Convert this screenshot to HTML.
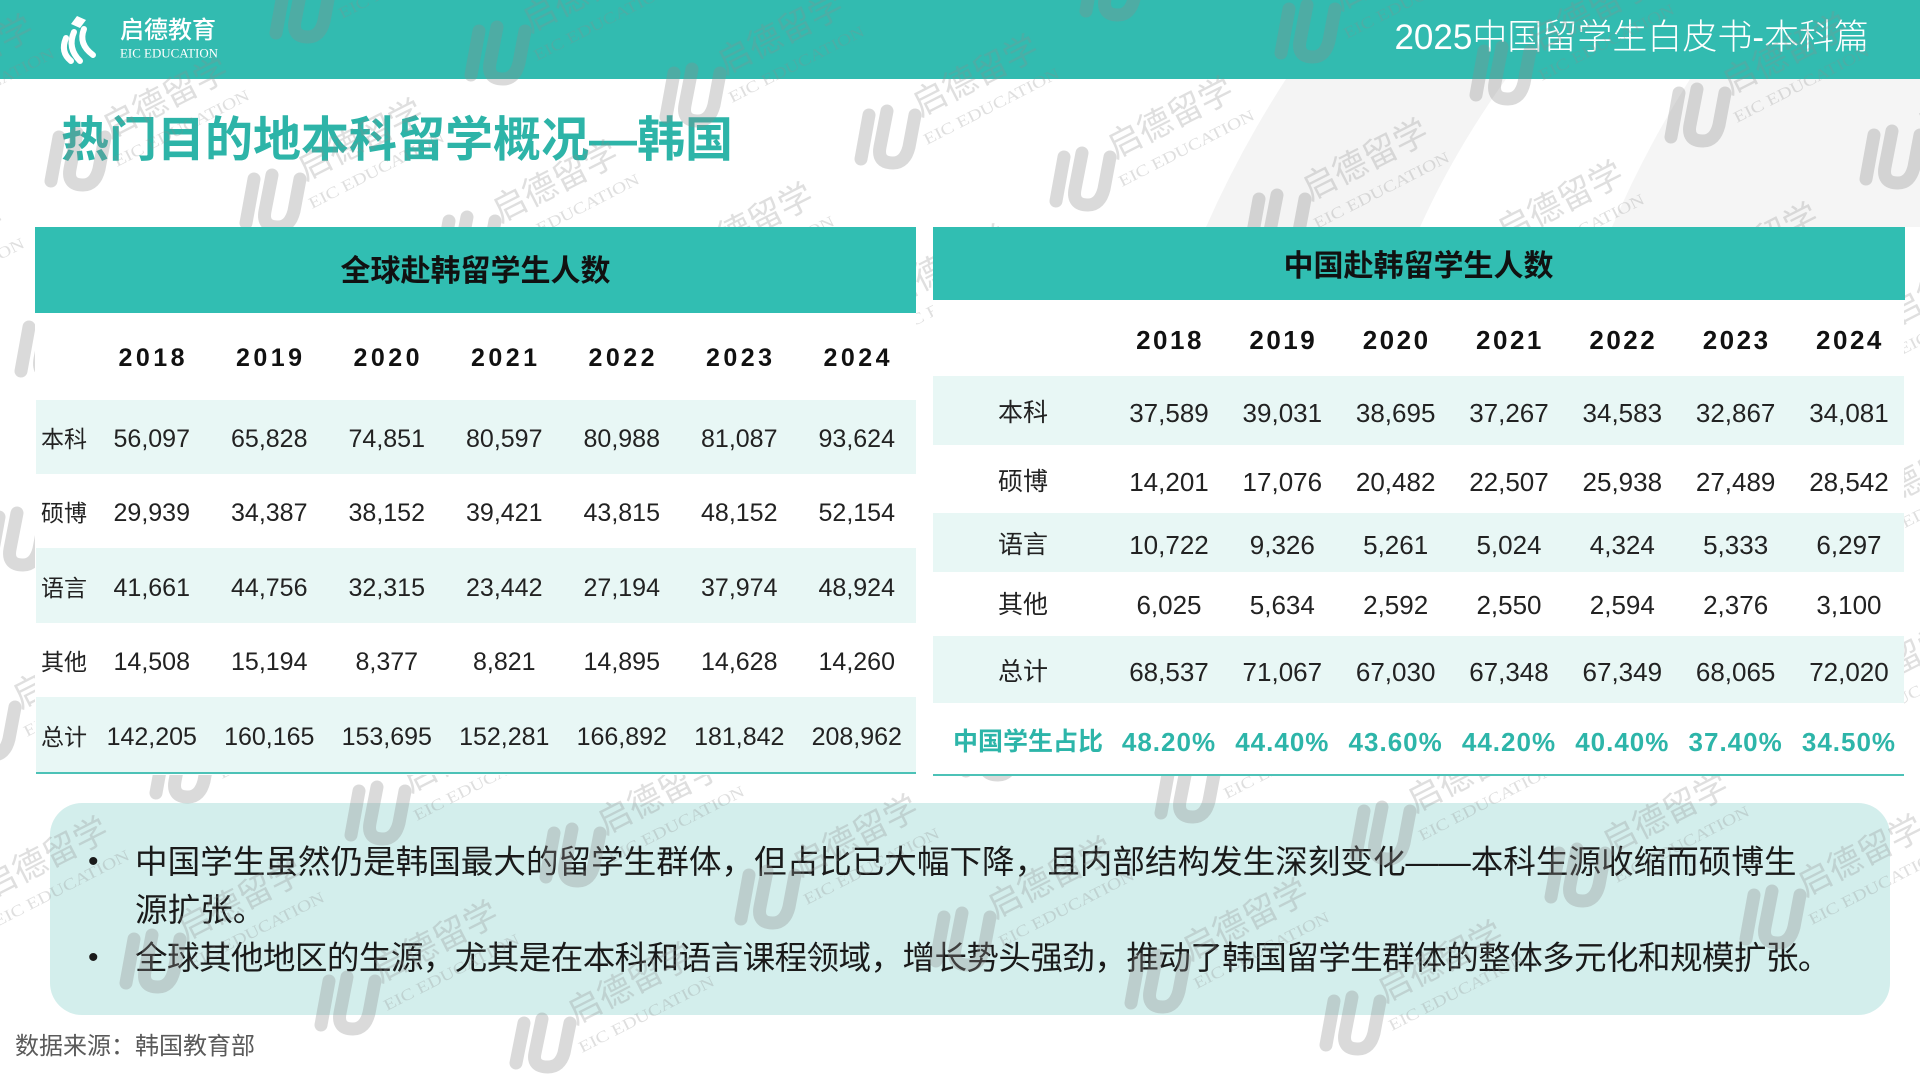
<!DOCTYPE html>
<html lang="zh-CN">
<head>
<meta charset="utf-8">
<style>
*{margin:0;padding:0;box-sizing:border-box}
html,body{width:1920px;height:1080px;overflow:hidden;background:#fff}
body{position:relative;font-family:"Liberation Sans","Noto Sans CJK SC",sans-serif;color:#1e1e1e}
.abs{position:absolute}
.hdr{left:0;top:0;width:1920px;height:79px;background:#32bbb0;z-index:2}
.htitle{right:51px;top:18px;height:40px;line-height:40px;font-size:35px;color:#fff;font-weight:300;white-space:nowrap;z-index:3}
.ptitle{left:61px;top:111px;height:60px;line-height:60px;font-size:48px;font-weight:700;color:#2db4a8;white-space:nowrap;z-index:3}
.box{left:50px;top:803px;width:1840px;height:212px;background:#d3eeec;border-radius:32px;z-index:2}
.bl{left:135px;height:48px;line-height:48px;font-size:32.6px;color:#1a1a1a;white-space:nowrap;z-index:3}
.bul{left:88px;height:48px;line-height:48px;font-size:30px;color:#1a1a1a;z-index:3}
.src{left:15px;top:1031px;height:32px;line-height:32px;font-size:24px;color:#5a5a5a;white-space:nowrap;z-index:3}
.wm{left:0;top:0;width:1920px;height:1080px;z-index:5;pointer-events:none}
.tbg{background:#fff;z-index:8}
.th{background:#31beb2;z-index:9}
.band{background:#e8f7f5;z-index:9}
.line{background:#4cc2b7;z-index:9}
.tt{height:40px;line-height:40px;font-size:30px;font-weight:700;color:#111;text-align:center;white-space:nowrap;z-index:10}
.r{position:absolute;display:flex;height:40px;line-height:40px;white-space:nowrap;z-index:10;color:#222}
.L .c{width:117.5px;text-align:center;font-size:25px}
.R .c{width:113.333px;text-align:center;font-size:26px}
.L.y .c{font-weight:700;letter-spacing:3.5px;padding-left:3px;color:#111}
.R.y .c{font-weight:700;letter-spacing:2.5px;padding-left:2px;color:#111}
.R.p .c{font-weight:700;color:#2db5a9;letter-spacing:1px}
.lab{height:40px;line-height:40px;white-space:nowrap;z-index:10;color:#222}
.lab.l{left:41px;font-size:23px}
.lab.rr{left:953px;width:140px;text-align:center;font-size:25px}
.wm .ic{fill:none;stroke:rgba(140,140,140,0.32);stroke-width:13;stroke-linecap:round}
.wm .t1{font-family:"Liberation Sans","Noto Sans CJK SC",sans-serif;font-size:34px;fill:rgba(140,140,140,0.28)}
.wm .t2{font-family:"Liberation Serif",serif;font-size:16px;fill:rgba(140,140,140,0.28)}
</style>
</head>
<body>

<svg class="abs" style="left:0;top:0;z-index:0" width="1920" height="1080">
  <path d="M1286 79 L1506 79 Q1455 150 1420 227 L1206 227 Q1240 150 1286 79 Z" fill="#f4f4f4"/>
  <path d="M1690 79 L1920 79 L1920 227 L1612 227 Q1645 150 1690 79 Z" fill="#f5f5f5"/>
</svg>

<div class="abs hdr"></div>
<svg class="abs" style="left:55px;top:10px;z-index:3" width="190" height="60">
  <polygon points="22,6 31,10 25,18 16,14" fill="#fff"/>
  <path d="M11 28 Q5 42 16 51" stroke="#fff" stroke-width="6" fill="none" stroke-linecap="round"/>
  <path d="M19 22 Q12 38 25 51" stroke="#fff" stroke-width="6" fill="none" stroke-linecap="round"/>
  <path d="M29 19 Q23 34 38 45" stroke="#fff" stroke-width="6" fill="none" stroke-linecap="round"/>
  <text x="65" y="28" font-family="Liberation Sans, Noto Sans CJK SC, sans-serif" font-size="24" font-weight="500" fill="#fff">启德教育</text>
  <text x="65" y="47.5" font-family="Liberation Serif, serif" font-size="13" fill="#fff" textLength="98" lengthAdjust="spacingAndGlyphs">EIC EDUCATION</text>
</svg>
<div class="abs htitle">2025中国留学生白皮书-本科篇</div>

<div class="abs ptitle">热门目的地本科留学概况—韩国</div>

<div class="abs box"></div>
<div class="abs bul" style="top:838px">•</div>
<div class="abs bl" style="top:838px">中国学生虽然仍是韩国最大的留学生群体，但占比已大幅下降，且内部结构发生深刻变化——本科生源收缩而硕博生</div>
<div class="abs bl" style="top:886px">源扩张。</div>
<div class="abs bul" style="top:934px">•</div>
<div class="abs bl" style="top:934px;letter-spacing:-0.6px">全球其他地区的生源，尤其是在本科和语言课程领域，增长势头强劲，推动了韩国留学生群体的整体多元化和规模扩张。</div>
<div class="abs src">数据来源：韩国教育部</div>

<svg class="abs wm" width="1920" height="1080">
<g transform="translate(1110,-11)"><path class="ic" d="M-16 -22 L-24 22"/><path class="ic" d="M2 -26 L-5 10 Q-8 26 8 26 Q20 26 24 10 L30 -22"/><text class="t1" transform="translate(35,-20) rotate(-27)">启德留学</text><text class="t2" transform="translate(42,8) rotate(-27)" textLength="150" lengthAdjust="spacingAndGlyphs">EIC EDUCATION</text></g>
<g transform="translate(1305,31)"><path class="ic" d="M-16 -22 L-24 22"/><path class="ic" d="M2 -26 L-5 10 Q-8 26 8 26 Q20 26 24 10 L30 -22"/><text class="t1" transform="translate(35,-20) rotate(-27)">启德留学</text><text class="t2" transform="translate(42,8) rotate(-27)" textLength="150" lengthAdjust="spacingAndGlyphs">EIC EDUCATION</text></g>
<g transform="translate(1500,73)"><path class="ic" d="M-16 -22 L-24 22"/><path class="ic" d="M2 -26 L-5 10 Q-8 26 8 26 Q20 26 24 10 L30 -22"/><text class="t1" transform="translate(35,-20) rotate(-27)">启德留学</text><text class="t2" transform="translate(42,8) rotate(-27)" textLength="150" lengthAdjust="spacingAndGlyphs">EIC EDUCATION</text></g>
<g transform="translate(1695,115)"><path class="ic" d="M-16 -22 L-24 22"/><path class="ic" d="M2 -26 L-5 10 Q-8 26 8 26 Q20 26 24 10 L30 -22"/><text class="t1" transform="translate(35,-20) rotate(-27)">启德留学</text><text class="t2" transform="translate(42,8) rotate(-27)" textLength="150" lengthAdjust="spacingAndGlyphs">EIC EDUCATION</text></g>
<g transform="translate(1890,157)"><path class="ic" d="M-16 -22 L-24 22"/><path class="ic" d="M2 -26 L-5 10 Q-8 26 8 26 Q20 26 24 10 L30 -22"/><text class="t1" transform="translate(35,-20) rotate(-27)">启德留学</text><text class="t2" transform="translate(42,8) rotate(-27)" textLength="150" lengthAdjust="spacingAndGlyphs">EIC EDUCATION</text></g>
<g transform="translate(300,11)"><path class="ic" d="M-16 -22 L-24 22"/><path class="ic" d="M2 -26 L-5 10 Q-8 26 8 26 Q20 26 24 10 L30 -22"/><text class="t1" transform="translate(35,-20) rotate(-27)">启德留学</text><text class="t2" transform="translate(42,8) rotate(-27)" textLength="150" lengthAdjust="spacingAndGlyphs">EIC EDUCATION</text></g>
<g transform="translate(495,53)"><path class="ic" d="M-16 -22 L-24 22"/><path class="ic" d="M2 -26 L-5 10 Q-8 26 8 26 Q20 26 24 10 L30 -22"/><text class="t1" transform="translate(35,-20) rotate(-27)">启德留学</text><text class="t2" transform="translate(42,8) rotate(-27)" textLength="150" lengthAdjust="spacingAndGlyphs">EIC EDUCATION</text></g>
<g transform="translate(690,95)"><path class="ic" d="M-16 -22 L-24 22"/><path class="ic" d="M2 -26 L-5 10 Q-8 26 8 26 Q20 26 24 10 L30 -22"/><text class="t1" transform="translate(35,-20) rotate(-27)">启德留学</text><text class="t2" transform="translate(42,8) rotate(-27)" textLength="150" lengthAdjust="spacingAndGlyphs">EIC EDUCATION</text></g>
<g transform="translate(885,137)"><path class="ic" d="M-16 -22 L-24 22"/><path class="ic" d="M2 -26 L-5 10 Q-8 26 8 26 Q20 26 24 10 L30 -22"/><text class="t1" transform="translate(35,-20) rotate(-27)">启德留学</text><text class="t2" transform="translate(42,8) rotate(-27)" textLength="150" lengthAdjust="spacingAndGlyphs">EIC EDUCATION</text></g>
<g transform="translate(1080,179)"><path class="ic" d="M-16 -22 L-24 22"/><path class="ic" d="M2 -26 L-5 10 Q-8 26 8 26 Q20 26 24 10 L30 -22"/><text class="t1" transform="translate(35,-20) rotate(-27)">启德留学</text><text class="t2" transform="translate(42,8) rotate(-27)" textLength="150" lengthAdjust="spacingAndGlyphs">EIC EDUCATION</text></g>
<g transform="translate(1275,221)"><path class="ic" d="M-16 -22 L-24 22"/><path class="ic" d="M2 -26 L-5 10 Q-8 26 8 26 Q20 26 24 10 L30 -22"/><text class="t1" transform="translate(35,-20) rotate(-27)">启德留学</text><text class="t2" transform="translate(42,8) rotate(-27)" textLength="150" lengthAdjust="spacingAndGlyphs">EIC EDUCATION</text></g>
<g transform="translate(1470,263)"><path class="ic" d="M-16 -22 L-24 22"/><path class="ic" d="M2 -26 L-5 10 Q-8 26 8 26 Q20 26 24 10 L30 -22"/><text class="t1" transform="translate(35,-20) rotate(-27)">启德留学</text><text class="t2" transform="translate(42,8) rotate(-27)" textLength="150" lengthAdjust="spacingAndGlyphs">EIC EDUCATION</text></g>
<g transform="translate(1665,305)"><path class="ic" d="M-16 -22 L-24 22"/><path class="ic" d="M2 -26 L-5 10 Q-8 26 8 26 Q20 26 24 10 L30 -22"/><text class="t1" transform="translate(35,-20) rotate(-27)">启德留学</text><text class="t2" transform="translate(42,8) rotate(-27)" textLength="150" lengthAdjust="spacingAndGlyphs">EIC EDUCATION</text></g>
<g transform="translate(1860,347)"><path class="ic" d="M-16 -22 L-24 22"/><path class="ic" d="M2 -26 L-5 10 Q-8 26 8 26 Q20 26 24 10 L30 -22"/><text class="t1" transform="translate(35,-20) rotate(-27)">启德留学</text><text class="t2" transform="translate(42,8) rotate(-27)" textLength="150" lengthAdjust="spacingAndGlyphs">EIC EDUCATION</text></g>
<g transform="translate(-120,117)"><path class="ic" d="M-16 -22 L-24 22"/><path class="ic" d="M2 -26 L-5 10 Q-8 26 8 26 Q20 26 24 10 L30 -22"/><text class="t1" transform="translate(35,-20) rotate(-27)">启德留学</text><text class="t2" transform="translate(42,8) rotate(-27)" textLength="150" lengthAdjust="spacingAndGlyphs">EIC EDUCATION</text></g>
<g transform="translate(75,159)"><path class="ic" d="M-16 -22 L-24 22"/><path class="ic" d="M2 -26 L-5 10 Q-8 26 8 26 Q20 26 24 10 L30 -22"/><text class="t1" transform="translate(35,-20) rotate(-27)">启德留学</text><text class="t2" transform="translate(42,8) rotate(-27)" textLength="150" lengthAdjust="spacingAndGlyphs">EIC EDUCATION</text></g>
<g transform="translate(270,201)"><path class="ic" d="M-16 -22 L-24 22"/><path class="ic" d="M2 -26 L-5 10 Q-8 26 8 26 Q20 26 24 10 L30 -22"/><text class="t1" transform="translate(35,-20) rotate(-27)">启德留学</text><text class="t2" transform="translate(42,8) rotate(-27)" textLength="150" lengthAdjust="spacingAndGlyphs">EIC EDUCATION</text></g>
<g transform="translate(465,243)"><path class="ic" d="M-16 -22 L-24 22"/><path class="ic" d="M2 -26 L-5 10 Q-8 26 8 26 Q20 26 24 10 L30 -22"/><text class="t1" transform="translate(35,-20) rotate(-27)">启德留学</text><text class="t2" transform="translate(42,8) rotate(-27)" textLength="150" lengthAdjust="spacingAndGlyphs">EIC EDUCATION</text></g>
<g transform="translate(660,285)"><path class="ic" d="M-16 -22 L-24 22"/><path class="ic" d="M2 -26 L-5 10 Q-8 26 8 26 Q20 26 24 10 L30 -22"/><text class="t1" transform="translate(35,-20) rotate(-27)">启德留学</text><text class="t2" transform="translate(42,8) rotate(-27)" textLength="150" lengthAdjust="spacingAndGlyphs">EIC EDUCATION</text></g>
<g transform="translate(855,327)"><path class="ic" d="M-16 -22 L-24 22"/><path class="ic" d="M2 -26 L-5 10 Q-8 26 8 26 Q20 26 24 10 L30 -22"/><text class="t1" transform="translate(35,-20) rotate(-27)">启德留学</text><text class="t2" transform="translate(42,8) rotate(-27)" textLength="150" lengthAdjust="spacingAndGlyphs">EIC EDUCATION</text></g>
<g transform="translate(1830,537)"><path class="ic" d="M-16 -22 L-24 22"/><path class="ic" d="M2 -26 L-5 10 Q-8 26 8 26 Q20 26 24 10 L30 -22"/><text class="t1" transform="translate(35,-20) rotate(-27)">启德留学</text><text class="t2" transform="translate(42,8) rotate(-27)" textLength="150" lengthAdjust="spacingAndGlyphs">EIC EDUCATION</text></g>
<g transform="translate(-150,307)"><path class="ic" d="M-16 -22 L-24 22"/><path class="ic" d="M2 -26 L-5 10 Q-8 26 8 26 Q20 26 24 10 L30 -22"/><text class="t1" transform="translate(35,-20) rotate(-27)">启德留学</text><text class="t2" transform="translate(42,8) rotate(-27)" textLength="150" lengthAdjust="spacingAndGlyphs">EIC EDUCATION</text></g>
<g transform="translate(45,349)"><path class="ic" d="M-16 -22 L-24 22"/><path class="ic" d="M2 -26 L-5 10 Q-8 26 8 26 Q20 26 24 10 L30 -22"/><text class="t1" transform="translate(35,-20) rotate(-27)">启德留学</text><text class="t2" transform="translate(42,8) rotate(-27)" textLength="150" lengthAdjust="spacingAndGlyphs">EIC EDUCATION</text></g>
<g transform="translate(1800,727)"><path class="ic" d="M-16 -22 L-24 22"/><path class="ic" d="M2 -26 L-5 10 Q-8 26 8 26 Q20 26 24 10 L30 -22"/><text class="t1" transform="translate(35,-20) rotate(-27)">启德留学</text><text class="t2" transform="translate(42,8) rotate(-27)" textLength="150" lengthAdjust="spacingAndGlyphs">EIC EDUCATION</text></g>
<g transform="translate(15,539)"><path class="ic" d="M-16 -22 L-24 22"/><path class="ic" d="M2 -26 L-5 10 Q-8 26 8 26 Q20 26 24 10 L30 -22"/><text class="t1" transform="translate(35,-20) rotate(-27)">启德留学</text><text class="t2" transform="translate(42,8) rotate(-27)" textLength="150" lengthAdjust="spacingAndGlyphs">EIC EDUCATION</text></g>
<g transform="translate(990,749)"><path class="ic" d="M-16 -22 L-24 22"/><path class="ic" d="M2 -26 L-5 10 Q-8 26 8 26 Q20 26 24 10 L30 -22"/><text class="t1" transform="translate(35,-20) rotate(-27)">启德留学</text><text class="t2" transform="translate(42,8) rotate(-27)" textLength="150" lengthAdjust="spacingAndGlyphs">EIC EDUCATION</text></g>
<g transform="translate(1185,791)"><path class="ic" d="M-16 -22 L-24 22"/><path class="ic" d="M2 -26 L-5 10 Q-8 26 8 26 Q20 26 24 10 L30 -22"/><text class="t1" transform="translate(35,-20) rotate(-27)">启德留学</text><text class="t2" transform="translate(42,8) rotate(-27)" textLength="150" lengthAdjust="spacingAndGlyphs">EIC EDUCATION</text></g>
<g transform="translate(1380,833)"><path class="ic" d="M-16 -22 L-24 22"/><path class="ic" d="M2 -26 L-5 10 Q-8 26 8 26 Q20 26 24 10 L30 -22"/><text class="t1" transform="translate(35,-20) rotate(-27)">启德留学</text><text class="t2" transform="translate(42,8) rotate(-27)" textLength="150" lengthAdjust="spacingAndGlyphs">EIC EDUCATION</text></g>
<g transform="translate(1575,875)"><path class="ic" d="M-16 -22 L-24 22"/><path class="ic" d="M2 -26 L-5 10 Q-8 26 8 26 Q20 26 24 10 L30 -22"/><text class="t1" transform="translate(35,-20) rotate(-27)">启德留学</text><text class="t2" transform="translate(42,8) rotate(-27)" textLength="150" lengthAdjust="spacingAndGlyphs">EIC EDUCATION</text></g>
<g transform="translate(1770,917)"><path class="ic" d="M-16 -22 L-24 22"/><path class="ic" d="M2 -26 L-5 10 Q-8 26 8 26 Q20 26 24 10 L30 -22"/><text class="t1" transform="translate(35,-20) rotate(-27)">启德留学</text><text class="t2" transform="translate(42,8) rotate(-27)" textLength="150" lengthAdjust="spacingAndGlyphs">EIC EDUCATION</text></g>
<g transform="translate(-15,729)"><path class="ic" d="M-16 -22 L-24 22"/><path class="ic" d="M2 -26 L-5 10 Q-8 26 8 26 Q20 26 24 10 L30 -22"/><text class="t1" transform="translate(35,-20) rotate(-27)">启德留学</text><text class="t2" transform="translate(42,8) rotate(-27)" textLength="150" lengthAdjust="spacingAndGlyphs">EIC EDUCATION</text></g>
<g transform="translate(180,771)"><path class="ic" d="M-16 -22 L-24 22"/><path class="ic" d="M2 -26 L-5 10 Q-8 26 8 26 Q20 26 24 10 L30 -22"/><text class="t1" transform="translate(35,-20) rotate(-27)">启德留学</text><text class="t2" transform="translate(42,8) rotate(-27)" textLength="150" lengthAdjust="spacingAndGlyphs">EIC EDUCATION</text></g>
<g transform="translate(375,813)"><path class="ic" d="M-16 -22 L-24 22"/><path class="ic" d="M2 -26 L-5 10 Q-8 26 8 26 Q20 26 24 10 L30 -22"/><text class="t1" transform="translate(35,-20) rotate(-27)">启德留学</text><text class="t2" transform="translate(42,8) rotate(-27)" textLength="150" lengthAdjust="spacingAndGlyphs">EIC EDUCATION</text></g>
<g transform="translate(570,855)"><path class="ic" d="M-16 -22 L-24 22"/><path class="ic" d="M2 -26 L-5 10 Q-8 26 8 26 Q20 26 24 10 L30 -22"/><text class="t1" transform="translate(35,-20) rotate(-27)">启德留学</text><text class="t2" transform="translate(42,8) rotate(-27)" textLength="150" lengthAdjust="spacingAndGlyphs">EIC EDUCATION</text></g>
<g transform="translate(765,897)"><path class="ic" d="M-16 -22 L-24 22"/><path class="ic" d="M2 -26 L-5 10 Q-8 26 8 26 Q20 26 24 10 L30 -22"/><text class="t1" transform="translate(35,-20) rotate(-27)">启德留学</text><text class="t2" transform="translate(42,8) rotate(-27)" textLength="150" lengthAdjust="spacingAndGlyphs">EIC EDUCATION</text></g>
<g transform="translate(960,939)"><path class="ic" d="M-16 -22 L-24 22"/><path class="ic" d="M2 -26 L-5 10 Q-8 26 8 26 Q20 26 24 10 L30 -22"/><text class="t1" transform="translate(35,-20) rotate(-27)">启德留学</text><text class="t2" transform="translate(42,8) rotate(-27)" textLength="150" lengthAdjust="spacingAndGlyphs">EIC EDUCATION</text></g>
<g transform="translate(1155,981)"><path class="ic" d="M-16 -22 L-24 22"/><path class="ic" d="M2 -26 L-5 10 Q-8 26 8 26 Q20 26 24 10 L30 -22"/><text class="t1" transform="translate(35,-20) rotate(-27)">启德留学</text><text class="t2" transform="translate(42,8) rotate(-27)" textLength="150" lengthAdjust="spacingAndGlyphs">EIC EDUCATION</text></g>
<g transform="translate(1350,1023)"><path class="ic" d="M-16 -22 L-24 22"/><path class="ic" d="M2 -26 L-5 10 Q-8 26 8 26 Q20 26 24 10 L30 -22"/><text class="t1" transform="translate(35,-20) rotate(-27)">启德留学</text><text class="t2" transform="translate(42,8) rotate(-27)" textLength="150" lengthAdjust="spacingAndGlyphs">EIC EDUCATION</text></g>
<g transform="translate(-45,919)"><path class="ic" d="M-16 -22 L-24 22"/><path class="ic" d="M2 -26 L-5 10 Q-8 26 8 26 Q20 26 24 10 L30 -22"/><text class="t1" transform="translate(35,-20) rotate(-27)">启德留学</text><text class="t2" transform="translate(42,8) rotate(-27)" textLength="150" lengthAdjust="spacingAndGlyphs">EIC EDUCATION</text></g>
<g transform="translate(150,961)"><path class="ic" d="M-16 -22 L-24 22"/><path class="ic" d="M2 -26 L-5 10 Q-8 26 8 26 Q20 26 24 10 L30 -22"/><text class="t1" transform="translate(35,-20) rotate(-27)">启德留学</text><text class="t2" transform="translate(42,8) rotate(-27)" textLength="150" lengthAdjust="spacingAndGlyphs">EIC EDUCATION</text></g>
<g transform="translate(345,1003)"><path class="ic" d="M-16 -22 L-24 22"/><path class="ic" d="M2 -26 L-5 10 Q-8 26 8 26 Q20 26 24 10 L30 -22"/><text class="t1" transform="translate(35,-20) rotate(-27)">启德留学</text><text class="t2" transform="translate(42,8) rotate(-27)" textLength="150" lengthAdjust="spacingAndGlyphs">EIC EDUCATION</text></g>
<g transform="translate(540,1045)"><path class="ic" d="M-16 -22 L-24 18"/><path class="ic" d="M2 -26 L-5 8 Q-8 22 8 22 Q20 22 24 8 L30 -22"/><text class="t1" transform="translate(35,-20) rotate(-27)">启德留学</text><text class="t2" transform="translate(42,8) rotate(-27)" textLength="150" lengthAdjust="spacingAndGlyphs">EIC EDUCATION</text></g>
</svg>

<!-- LEFT TABLE -->
<div class="abs tbg" style="left:35px;top:227px;width:881px;height:548px"></div>
<div class="abs th" style="left:35px;top:227px;width:881px;height:86px"></div>
<div class="abs tt" style="left:35px;width:881px;top:252px">全球赴韩留学生人数</div>
<div class="abs band" style="left:36px;top:400px;width:880px;height:74px"></div>
<div class="abs band" style="left:36px;top:548px;width:880px;height:75px"></div>
<div class="abs band" style="left:36px;top:697px;width:880px;height:75px"></div>
<div class="abs line" style="left:36px;top:772px;width:880px;height:2px"></div>

<div class="r L y" style="left:93px;top:338px"><div class="c">2018</div><div class="c">2019</div><div class="c">2020</div><div class="c">2021</div><div class="c">2022</div><div class="c">2023</div><div class="c">2024</div></div>

<div class="abs lab l" style="top:419px">本科</div>
<div class="r L" style="left:93px;top:419px"><div class="c">56,097</div><div class="c">65,828</div><div class="c">74,851</div><div class="c">80,597</div><div class="c">80,988</div><div class="c">81,087</div><div class="c">93,624</div></div>
<div class="abs lab l" style="top:493px">硕博</div>
<div class="r L" style="left:93px;top:493px"><div class="c">29,939</div><div class="c">34,387</div><div class="c">38,152</div><div class="c">39,421</div><div class="c">43,815</div><div class="c">48,152</div><div class="c">52,154</div></div>
<div class="abs lab l" style="top:568px">语言</div>
<div class="r L" style="left:93px;top:568px"><div class="c">41,661</div><div class="c">44,756</div><div class="c">32,315</div><div class="c">23,442</div><div class="c">27,194</div><div class="c">37,974</div><div class="c">48,924</div></div>
<div class="abs lab l" style="top:642px">其他</div>
<div class="r L" style="left:93px;top:642px"><div class="c">14,508</div><div class="c">15,194</div><div class="c">8,377</div><div class="c">8,821</div><div class="c">14,895</div><div class="c">14,628</div><div class="c">14,260</div></div>
<div class="abs lab l" style="top:717px">总计</div>
<div class="r L" style="left:93px;top:717px"><div class="c">142,205</div><div class="c">160,165</div><div class="c">153,695</div><div class="c">152,281</div><div class="c">166,892</div><div class="c">181,842</div><div class="c">208,962</div></div>

<!-- RIGHT TABLE -->
<div class="abs tbg" style="left:933px;top:227px;width:971px;height:549px"></div>
<div class="abs th" style="left:933px;top:227px;width:972px;height:73px"></div>
<div class="abs tt" style="left:933px;width:971px;top:247px">中国赴韩留学生人数</div>
<div class="abs band" style="left:933px;top:376px;width:971px;height:69px"></div>
<div class="abs band" style="left:933px;top:513px;width:971px;height:59px"></div>
<div class="abs band" style="left:933px;top:636px;width:971px;height:67px"></div>
<div class="abs line" style="left:933px;top:774px;width:971px;height:2px"></div>

<div class="r R y" style="left:1112.33px;top:320px"><div class="c">2018</div><div class="c">2019</div><div class="c">2020</div><div class="c">2021</div><div class="c">2022</div><div class="c">2023</div><div class="c">2024</div></div>

<div class="abs lab rr" style="top:393px">本科</div>
<div class="r R" style="left:1112.33px;top:393px"><div class="c">37,589</div><div class="c">39,031</div><div class="c">38,695</div><div class="c">37,267</div><div class="c">34,583</div><div class="c">32,867</div><div class="c">34,081</div></div>
<div class="abs lab rr" style="top:462px">硕博</div>
<div class="r R" style="left:1112.33px;top:462px"><div class="c">14,201</div><div class="c">17,076</div><div class="c">20,482</div><div class="c">22,507</div><div class="c">25,938</div><div class="c">27,489</div><div class="c">28,542</div></div>
<div class="abs lab rr" style="top:525px">语言</div>
<div class="r R" style="left:1112.33px;top:525px"><div class="c">10,722</div><div class="c">9,326</div><div class="c">5,261</div><div class="c">5,024</div><div class="c">4,324</div><div class="c">5,333</div><div class="c">6,297</div></div>
<div class="abs lab rr" style="top:585px">其他</div>
<div class="r R" style="left:1112.33px;top:585px"><div class="c">6,025</div><div class="c">5,634</div><div class="c">2,592</div><div class="c">2,550</div><div class="c">2,594</div><div class="c">2,376</div><div class="c">3,100</div></div>
<div class="abs lab rr" style="top:652px">总计</div>
<div class="r R" style="left:1112.33px;top:652px"><div class="c">68,537</div><div class="c">71,067</div><div class="c">67,030</div><div class="c">67,348</div><div class="c">67,349</div><div class="c">68,065</div><div class="c">72,020</div></div>
<div class="abs lab rr" style="top:722px;font-weight:700;color:#2db5a9">中国学生占比</div>
<div class="r R p" style="left:1112.33px;top:722px"><div class="c">48.20%</div><div class="c">44.40%</div><div class="c">43.60%</div><div class="c">44.20%</div><div class="c">40.40%</div><div class="c">37.40%</div><div class="c">34.50%</div></div>

</body>
</html>
